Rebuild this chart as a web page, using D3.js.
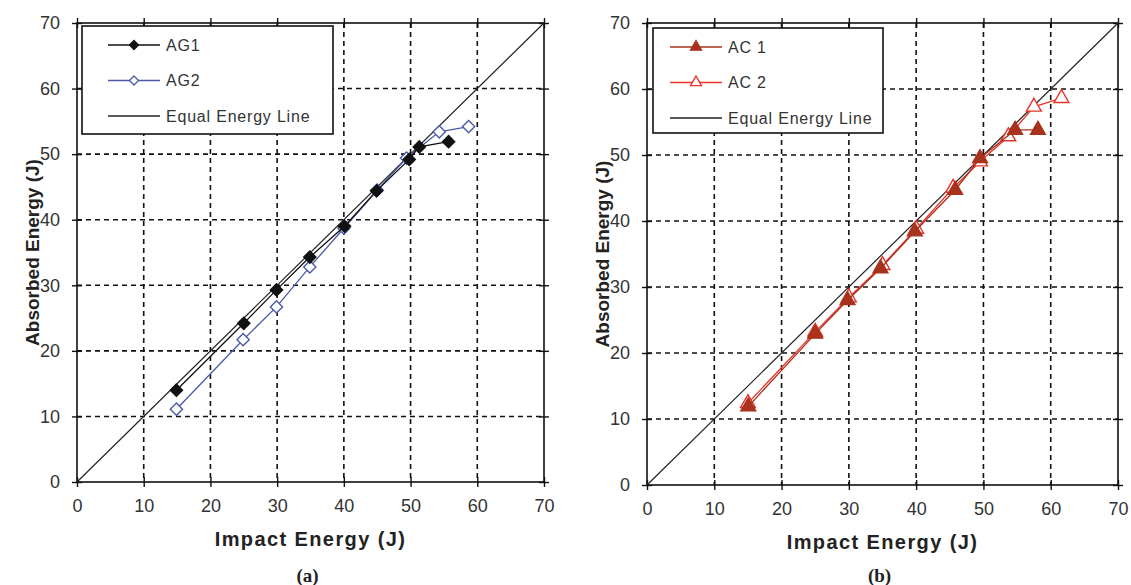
<!DOCTYPE html>
<html>
<head>
<meta charset="utf-8">
<script src="https://cdn.jsdelivr.net/npm/d3@7"></script>
<style>
  body { margin: 0; background: #fff; }
  text { font-family: "Liberation Sans", Arial, sans-serif; }
</style>
</head>
<body>
<div id="my_dataviz"></div>
<script>
// ticks on both axes
const ticks = [0, 10, 20, 30, 40, 50, 60, 70];
const equalLine = [[0, 0], [70, 70]];

// panel (a) - AG specimens
const ag1Impact = [14.9, 25, 29.9, 34.9, 40.1, 44.9, 49.8, 51.3, 55.7];
const ag1Absorbed = [14.0, 24.2, 29.3, 34.3, 39.0, 44.4, 49.2, 51.1, 51.9];
const ag2Impact = [14.9, 24.9, 29.9, 34.9, 40, 45, 49.4, 54.3, 58.7];
const ag2Absorbed = [11.1, 21.7, 26.7, 32.8, 38.7, 44.5, 49.4, 53.4, 54.2];

// panel (b) - AC specimens
const ac1Impact = [15.05, 25, 29.8, 34.7, 39.8, 45.8, 49.5, 54.7, 58.1];
const ac1Absorbed = [11.9, 22.9, 28.0, 32.8, 38.4, 44.7, 49.5, 53.8, 53.8];
const ac2Impact = [15, 25, 30, 35, 40, 45.5, 49.5, 53.7, 57.5, 61.6];
const ac2Absorbed = [12.4, 23.2, 28.4, 33.3, 38.8, 45.0, 49.0, 52.8, 57.3, 58.6];

const zip = (xs, ys) => xs.map((x, i) => [x, ys[i]]);

const svg = d3.select("#my_dataviz")
    .append("svg")
    .attr("width", 1131)
    .attr("height", 585)

function panel(opt) {
    const x = d3.scaleLinear().domain([0, 70]).range([opt.left, opt.right]);
    const y = d3.scaleLinear().domain([0, 70]).range([opt.bottom, opt.top]);
    const g = svg.append("g");

    // dashed grid
    g.selectAll("line.gx")
        .data(ticks.slice(1, -1))
        .join("line")
        .attr("x1", d => x(d)).attr("x2", d => x(d))
        .attr("y1", opt.top).attr("y2", opt.bottom)
        .style("stroke", "#111").style("stroke-width", 1.6)
        .style("stroke-dasharray", "5,4");
    g.selectAll("line.gy")
        .data(ticks.slice(1, -1))
        .join("line")
        .attr("y1", d => y(d)).attr("y2", d => y(d))
        .attr("x1", opt.left).attr("x2", opt.right)
        .style("stroke", "#111").style("stroke-width", 1.6)
        .style("stroke-dasharray", "5,4");

    // axes, ticks crossing the frame on all four sides
    const axB = g.append("g").attr("transform", `translate(0,${opt.bottom})`)
        .call(d3.axisBottom(x).tickValues(ticks).tickSizeInner(5).tickSizeOuter(0).tickPadding(12));
    const axT = g.append("g").attr("transform", `translate(0,${opt.top})`)
        .call(d3.axisTop(x).tickValues(ticks).tickSizeInner(5).tickSizeOuter(0).tickFormat(""));
    const axL = g.append("g").attr("transform", `translate(${opt.left},0)`)
        .call(d3.axisLeft(y).tickValues(ticks).tickSizeInner(5).tickSizeOuter(0).tickPadding(12));
    const axR = g.append("g").attr("transform", `translate(${opt.right},0)`)
        .call(d3.axisRight(y).tickValues(ticks).tickSizeInner(5).tickSizeOuter(0).tickFormat(""));
    [axB, axT, axL, axR].forEach(a => {
        a.select(".domain").remove();
        a.selectAll(".tick line").attr("stroke", "#111").attr("stroke-width", 1.4);
        a.selectAll("text").style("font-size", "18px").attr("fill", "#333")
            .style("font-family", '"Liberation Sans", Arial, sans-serif');
    });
    axB.selectAll(".tick line").attr("y1", -5);
    axT.selectAll(".tick line").attr("y1", 5);
    axL.selectAll(".tick line").attr("x1", 5);
    axR.selectAll(".tick line").attr("x1", -5);

    // frame
    g.append("rect")
        .attr("x", opt.left).attr("y", opt.top)
        .attr("width", opt.right - opt.left).attr("height", opt.bottom - opt.top)
        .style("fill", "none").style("stroke", "#111").style("stroke-width", 1.6);

    const line = d3.line().x(d => x(d[0])).y(d => y(d[1]));

    // equal energy line
    g.append("path").datum(equalLine)
        .attr("d", line)
        .style("fill", "none").style("stroke", "#222").style("stroke-width", 1.2);

    // series - second one drawn first so the filled markers sit on top
    opt.series.slice().reverse().forEach(s => {
        g.append("path").datum(s.data)
            .attr("d", line)
            .style("fill", "none").style("stroke", s.color).style("stroke-width", 1.3);
        g.selectAll(null)
            .data(s.data)
            .join("path")
            .attr("transform", d => `translate(${x(d[0])},${y(d[1])})`)
            .attr("d", d3.symbol().type(s.symbol).size(s.size))
            .style("fill", s.filled ? s.color : "#fff")
            .style("stroke", s.color).style("stroke-width", 1.4);
    });

    // legend box
    const lg = g.append("g");
    lg.append("rect")
        .attr("x", opt.legend.x).attr("y", opt.legend.y)
        .attr("width", opt.legend.w).attr("height", opt.legend.h)
        .style("fill", "#fff").style("stroke", "#111").style("stroke-width", 1.6);
    const entries = opt.series.concat([{ name: "Equal Energy Line", color: "#222" }]);
    entries.forEach((s, i) => {
        const ly = opt.legend.y + 19 + i * 35.5;
        const lx = opt.legend.x + opt.legend.lineX;
        lg.append("line")
            .attr("x1", lx).attr("x2", lx + 52).attr("y1", ly).attr("y2", ly)
            .style("stroke", s.color).style("stroke-width", 1.3);
        if (s.symbol) {
            lg.append("path")
                .attr("transform", `translate(${lx + 26},${ly})`)
                .attr("d", d3.symbol().type(s.symbol).size(s.size * 0.55))
                .style("fill", s.filled ? s.color : "#fff")
                .style("stroke", s.color).style("stroke-width", 1.3);
        }
        lg.append("text")
            .attr("x", lx + 58).attr("y", ly)
            .attr("dy", "0.35em")
            .style("font-size", "16px").style("letter-spacing", "0.8px").style("fill", "#333")
            .text(s.name);
    });

    // axis titles
    g.append("text")
        .attr("x", (opt.left + opt.right) / 2).attr("y", opt.bottom + 64)
        .attr("text-anchor", "middle")
        .style("font-size", "20px").style("font-weight", "bold").style("letter-spacing", "1.4px")
        .style("fill", "#222")
        .text("Impact Energy (J)");
    g.append("text")
        .attr("transform", `translate(${opt.left - 38},${(opt.top + opt.bottom) / 2}) rotate(-90)`)
        .attr("text-anchor", "middle")
        .style("font-size", "19px").style("font-weight", "bold").style("fill", "#222")
        .text("Absorbed Energy (J)");
    g.append("text")
        .attr("x", (opt.left + opt.right) / 2 - 3).attr("y", 582)
        .attr("text-anchor", "middle")
        .style("font-family", '"Liberation Serif", "Times New Roman", serif')
        .style("font-size", "19px").style("font-weight", "bold").style("fill", "#222")
        .text(opt.caption);
}

panel({
    left: 77, right: 544, top: 23, bottom: 482, caption: "(a)",
    legend: { x: 82, y: 26, w: 251, h: 108, lineX: 26 },
    series: [
        { name: "AG1", data: zip(ag1Impact, ag1Absorbed), color: "#111", symbol: d3.symbolDiamond2, size: 95, filled: true },
        { name: "AG2", data: zip(ag2Impact, ag2Absorbed), color: "#4b5aa8", symbol: d3.symbolDiamond2, size: 95, filled: false }
    ]
});

panel({
    left: 647, right: 1118, top: 23, bottom: 485, caption: "(b)",
    legend: { x: 653, y: 28, w: 230, h: 105, lineX: 17 },
    series: [
        { name: "AC 1", data: zip(ac1Impact, ac1Absorbed), color: "#a8321c", symbol: d3.symbolTriangle, size: 95, filled: true },
        { name: "AC 2", data: zip(ac2Impact, ac2Absorbed), color: "#e8322a", symbol: d3.symbolTriangle, size: 95, filled: false }
    ]
});
</script>
</body>
</html>
